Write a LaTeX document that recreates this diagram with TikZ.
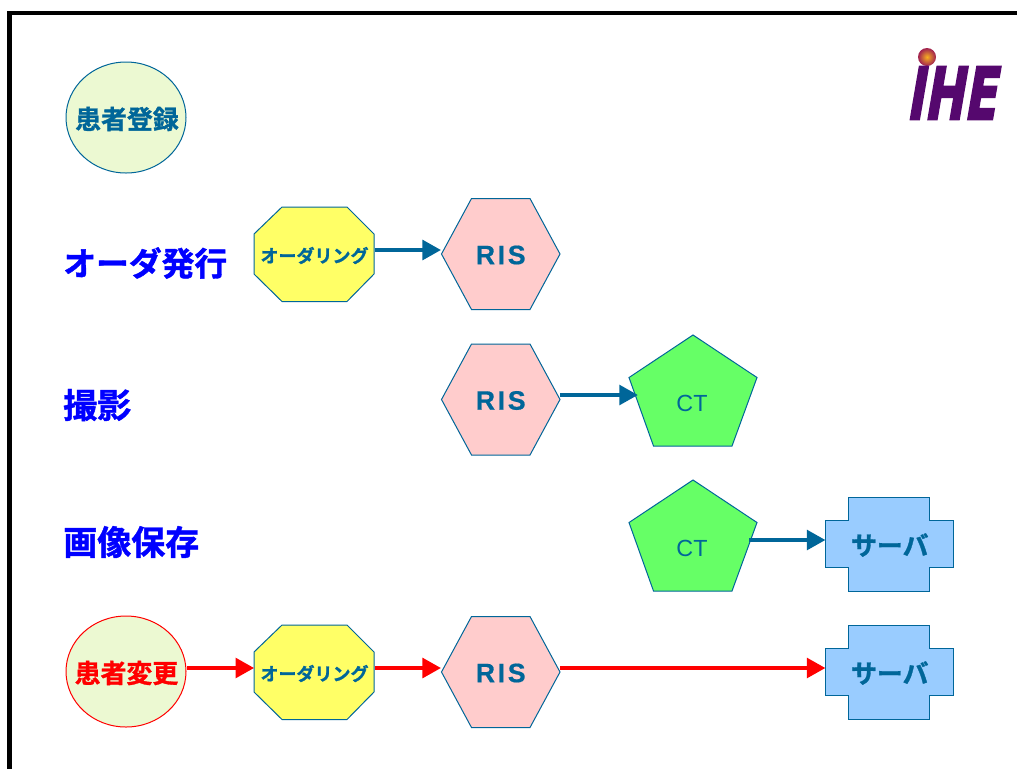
\documentclass[tikz,border=0pt]{standalone}
\usepackage{fontspec}
\usetikzlibrary{arrows.meta,shapes.geometric}
\newfontfamily\jpfont{Noto Sans CJK JP}[BoldFont={* Bold},BoldFeatures={FakeBold=1.2}]
\newfontfamily\latfont{Liberation Sans}
\newfontfamily\risfont[LetterSpace=10,BoldFeatures={FakeBold=0.6}]{Liberation Sans}
\newfontfamily\logofont[FakeBold=3]{DejaVu Sans Bold}
\definecolor{lineblue}{HTML}{006699}
\definecolor{octfill}{HTML}{FFFF66}
\definecolor{hexfill}{HTML}{FFCCCC}
\definecolor{pentfill}{HTML}{66FF66}
\definecolor{crossfill}{HTML}{99CCFF}
\definecolor{ellfill}{HTML}{ECF9D2}
\definecolor{ihepurple}{HTML}{55086E}
\definecolor{ballin}{HTML}{F8B020}
\definecolor{ballout}{HTML}{A02050}
\tikzset{
  shapeline/.style={draw=lineblue,line width=0.75pt,line join=miter},
  boxlabel/.style={inner sep=0pt,text=lineblue,align=center},
  title/.style={inner sep=0pt,anchor=west,text={rgb,255:red,0;green,0;blue,255},font=\jpfont\bfseries\fontsize{25.5}{28}\selectfont},
  jpbig/.style={font=\jpfont\bfseries\fontsize{19.4}{22}\selectfont},
  jpsmall/.style={font=\jpfont\bfseries\fontsize{13.5}{16}\selectfont},
  bluearrow/.style={draw=lineblue,line width=3.4pt,-{Triangle[length=14pt,width=14.5pt]}},
  redarrow/.style={draw=red,line width=3.4pt,-{Triangle[length=14pt,width=14.5pt]}},
}
% #1 name, #2 cx, #3 top y, #4 text
\newcommand{\octa}[4]{%
  \begin{scope}[shift={(#2,#3)}]
    \path[shapeline,fill=octfill] (-32,0) -- (33,0) -- (60,27) -- (60,67) -- (33,94.5) -- (-32,94.5) -- (-60,67) -- (-60,27) -- cycle;
    \node[boxlabel,jpsmall,minimum width=90pt,minimum height=71pt] (#1) at (0.5,48.5) {#4};
  \end{scope}}
\newcommand{\hexa}[4]{%
  \begin{scope}[shift={(#2,#3)}]
    \path[shapeline,fill=hexfill] (-29.5,0) -- (29,0) -- (59,55.5) -- (29,111) -- (-29.5,111) -- (-59.5,55.5) -- cycle;
    \node[boxlabel,font=\risfont\bfseries\fontsize{20}{24}\selectfont,minimum width=89pt,minimum height=83pt] (#1) at (-0.3,56.5) {#4};
  \end{scope}}
\newcommand{\penta}[4]{%
  \begin{scope}[shift={(#2,#3)}]
    \path[shapeline,fill=pentfill] (0,0) -- (64,42.5) -- (39,111) -- (-39.5,111) -- (-64,42.5) -- cycle;
    \node[boxlabel,font=\latfont\fontsize{17.5}{21}\selectfont,minimum width=96pt,minimum height=83pt] (#1) at (-1,68) {#4};
  \end{scope}}
\newcommand{\crossbox}[4]{%
  \begin{scope}[shift={(#2,#3)}]
    \path[shapeline,fill=crossfill] (-40.5,0) -- (40.5,0) -- (40.5,23.5) -- (64,23.5) -- (64,70) -- (40.5,70) -- (40.5,94) -- (-40.5,94) -- (-40.5,70) -- (-64,70) -- (-64,23.5) -- (-40.5,23.5) -- cycle;
    \node[boxlabel,jpbig,minimum width=96pt,minimum height=70pt] (#1) at (0.8,48) {#4};
  \end{scope}}
\begin{document}
\begin{tikzpicture}[x=0.75pt,y=-0.75pt]
\useasboundingbox (0,0) rectangle (1017,769);
\fill[white] (0,0) rectangle (1017,769);
% frame
\draw[black,line width=3.4pt] (1017,13) -- (9.5,13) -- (9.5,769);
% logo
\shade[inner color=ballin,outer color=ballout] (927,57) circle [radius=9];
\node[inner sep=0pt,text=ihepurple,font=\logofont\fontsize{54}{58}\selectfont,
  xscale=0.66,xslant=0.26] (logo) at (955.5,93) {IHE};
% titles
\node[title,font=\jpfont\bfseries\fontsize{24.6}{28}\selectfont] (t1) at (63,263) {オーダ発行};
\node[title] (t2) at (63,405) {撮影};
\node[title] (t3) at (63,542) {画像保存};
% row 1
\path[shapeline,fill=ellfill] (126,117.5) ellipse [x radius=60,y radius=55.5];
\node[boxlabel,jpbig,minimum width=90pt,minimum height=70pt] (reg) at (127,119) {患者登録};
% row 2
\octa{ord1}{314}{207}{オーダリング}
\hexa{ris1}{501}{198.5}{RIS}
% row 3
\hexa{ris2}{501}{344}{RIS}
\penta{ct1}{693}{335}{CT}
% row 4
\penta{ct2}{693}{480}{CT}
\crossbox{srv1}{889}{497}{サーバ}
% row 5
\path[draw=red,line width=0.75pt,fill=ellfill] (126,671.5) ellipse [x radius=60,y radius=55.5];
\node[inner sep=0pt,text=red,jpbig,minimum width=90pt,minimum height=70pt] (chg) at (126.5,673) {患者変更};
\octa{ord2}{314}{625}{オーダリング}
\hexa{ris3}{501}{616.5}{RIS}
\crossbox{srv2}{889}{625}{サーバ}
% connectors
\coordinate (y1) at (0,250);
\coordinate (y2) at (0,395);
\coordinate (y3) at (0,540);
\coordinate (y4) at (0,668);
\coordinate (ctin) at (638,395);
\coordinate (ctout) at (749,540);
\coordinate (chgout) at (187,668);
\draw[bluearrow] (ord1.east |- y1) -- (ris1.west |- y1);
\draw[bluearrow] (ris2.east |- y2) -- (ctin);
\draw[bluearrow] (ctout) -- (srv1.west |- y3);
\draw[redarrow] (chgout) -- (ord2.west |- y4);
\draw[redarrow] (ord2.east |- y4) -- (ris3.west |- y4);
\draw[redarrow] (ris3.east |- y4) -- (srv2.west |- y4);
\end{tikzpicture}
\end{document}
